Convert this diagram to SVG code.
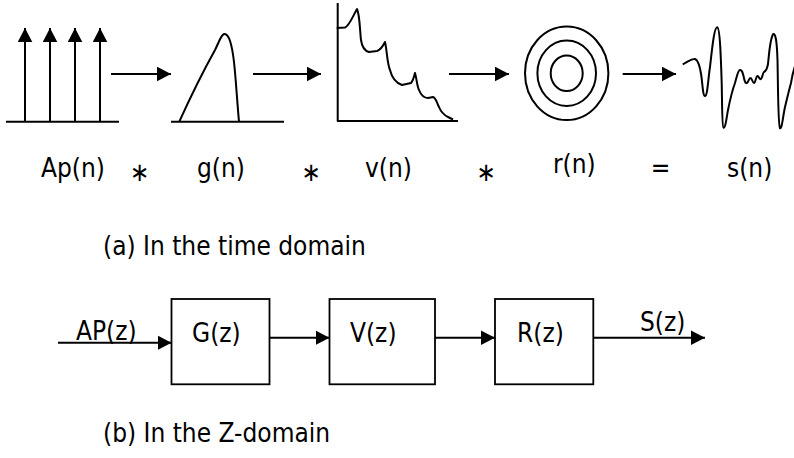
<svg xmlns="http://www.w3.org/2000/svg" width="794" height="458" viewBox="0 0 794 458">
<style>
.ln{fill:none;stroke:#000;stroke-width:2;stroke-linejoin:round;stroke-linecap:butt}
.bx{fill:#fff;stroke:#000;stroke-width:1.8}
.t{font-family:"DejaVu Sans Condensed","DejaVu Sans",sans-serif;font-size:26px;fill:#000}
.arr{marker-end:url(#ah)}
</style>
<defs>
<marker id="ah" markerUnits="userSpaceOnUse" markerWidth="15" markerHeight="15" refX="14" refY="7.3" orient="auto" viewBox="0 0 15 15">
<path d="M0,0 L14,7.3 L0,14.6 z" fill="#000"/>
</marker>
</defs>
<g id="impulses">
<path class="ln" d="M6,121.7 H119"/>
<path class="ln arr" d="M25,121.7 V28"/>
<path class="ln arr" d="M50,121.7 V28"/>
<path class="ln arr" d="M75,121.7 V28"/>
<path class="ln arr" d="M100,121.7 V28"/>
</g>
<g id="glottal">
<path class="ln" d="M171,121.7 H284"/>
<path class="ln" d="M179.3,121.7 C190,98 205,68 215,50 C219,42 221,35 224,34 C229,33 232,45 234,62 C236,80 237,100 239,121.7"/>
</g>
<g id="vocaltract">
<path class="ln" d="M337.7,3 V121 H458"/>
<path class="ln" d="M336.7,28 L345,27.5 C349,26 352,18 357,9 C360,16 360,33 361,40 C362,47 365,51 369,52 L377,51 C380,50 383,46 385,42 C387,50 387,63 390,70 C392,78 396,83 402,85 L411,83 C413,81 414,77 415,73 C417,80 417,86 419,90 C421,95 424,98 428,98 L433,97 C436,98 437,103 439,107 C441,112 444,115 448,117 L453,119.5"/>
</g>
<g id="radiation">
<ellipse class="ln" cx="566.7" cy="73.3" rx="41.7" ry="46.7"/>
<ellipse class="ln" cx="566.7" cy="73.3" rx="29.3" ry="32.7"/>
<ellipse class="ln" cx="566.7" cy="73.3" rx="16" ry="17.7"/>
</g>
<g id="speech">
<path class="ln" d="M682.7,64.3 C688,62 692,58 695,59 C698,60 700,66 701.5,77 C702.5,85 703,96 705,96 C707.5,96 708,80 710,67 C712,50 714,27 717.3,27.3 C720,28 721,60 721.7,83 C722.2,105 722,127 723.5,127.7 C725.5,128 726.5,118 728,110 C730,100 732,91 735,83 C737,76 738,70 740,70 C742,70 742.5,72 743.5,76 C744.5,81 745.5,84 747,83 C748.5,82 749,78 750.5,78 C752,78 752.5,83 754,83 C755.5,83 756,76 757.5,76 C759,76 759.5,80 761,79 C762.5,78 762.5,73 764,72 C766,71 767,70 768,64 C769,55 770,38 773.3,34 C776,33 777,45 777.5,60 C778,80 778,126 780,128.3 C782,129 783,116 785,107 C787,99 789,90 791,83 C792,77 793,72 795,66"/>
</g>
<g id="labels-time">
<text class="t" x="41" y="177">Ap(n)</text>
<text class="t" x="139.5" y="181" text-anchor="middle">∗</text>
<text class="t" x="197" y="177">g(n)</text>
<text class="t" x="311" y="181" text-anchor="middle">∗</text>
<text class="t" x="365" y="177">v(n)</text>
<text class="t" x="486" y="181" text-anchor="middle">∗</text>
<text class="t" x="553" y="173">r(n)</text>
<text class="t" x="660.5" y="177" text-anchor="middle">=</text>
<text class="t" x="727" y="177">s(n)</text>
<text class="t" x="103" y="255">(a) In the time domain</text>
</g>
<g id="G">
<rect class="bx" x="171.5" y="299" width="98" height="85.3"/>
<text class="t" x="192" y="342">G(z)</text>
</g>
<g id="V">
<rect class="bx" x="329.5" y="299" width="105.5" height="85.3"/>
<text class="t" x="350" y="342">V(z)</text>
</g>
<g id="R">
<rect class="bx" x="495" y="299" width="98.3" height="85.3"/>
<text class="t" x="517" y="342">R(z)</text>
</g>
<g id="labels-z">
<text class="t" x="76" y="340">AP(z)</text>
<text class="t" x="640" y="331">S(z)</text>
<text class="t" x="103" y="442">(b) In the Z-domain</text>
</g>
<g id="connectors">
<path class="ln arr" d="M111,74 H171"/>
<path class="ln arr" d="M253,74 H321"/>
<path class="ln arr" d="M449,74 H509"/>
<path class="ln arr" d="M622.7,74 H676"/>
<path class="ln arr" d="M58,342.7 H171.5"/>
<path class="ln arr" d="M269.5,337.7 H329.5"/>
<path class="ln arr" d="M435,337.7 H495"/>
<path class="ln arr" d="M593.3,337.7 H705"/>
</g>
</svg>
